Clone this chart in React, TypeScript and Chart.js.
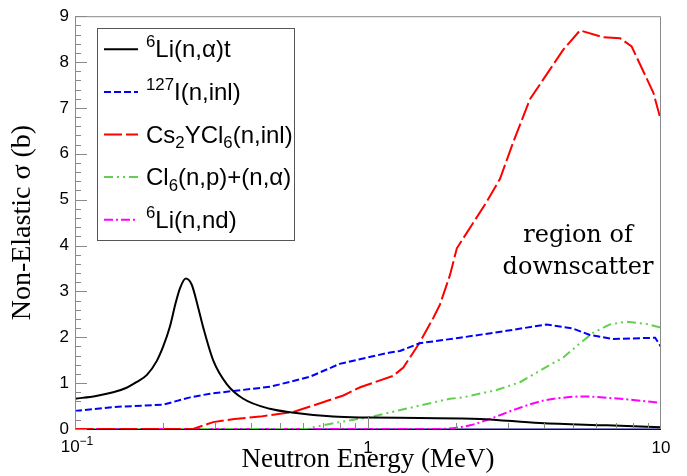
import React, { useEffect, useRef } from 'react';
import { Chart, registerables } from 'chart.js';

Chart.register(...registerables);

// ---- data (energy in MeV, cross-section in barn) ----
const liAlphaE = [0.1, 0.118, 0.135, 0.15, 0.162, 0.176, 0.19, 0.2, 0.211, 0.22, 0.2283, 0.2387, 0.2501, 0.262, 0.274, 0.2965, 0.3295, 0.3753, 0.463, 0.55, 0.76, 1.0, 1.5, 2.41, 3.86, 6.53, 10];
const liAlphaSigma = [0.66, 0.72, 0.8, 0.9, 1.02, 1.18, 1.48, 1.8, 2.24, 2.72, 3.07, 3.28, 3.15, 2.7, 2.21, 1.49, 0.98, 0.66, 0.44, 0.36, 0.27, 0.25, 0.24, 0.22, 0.13, 0.08, 0.04];

const iodineE = [0.1, 0.135, 0.2, 0.247, 0.289, 0.463, 0.634, 0.8, 1.19, 1.285, 1.5, 2.06, 2.97, 4.07, 5.01, 5.72, 6.86, 8.48, 9.55, 10];
const iodineSigma = [0.39, 0.48, 0.53, 0.69, 0.77, 0.92, 1.14, 1.42, 1.67, 1.7, 1.87, 1.99, 2.14, 2.28, 2.19, 2.05, 1.96, 1.98, 1.99, 1.79];

const cyclE = [0.1, 0.253, 0.296, 0.35, 0.428, 0.556, 0.634, 0.824, 0.94, 1.22, 1.32, 1.5, 1.67, 1.76, 1.905, 2.01, 2.54, 2.82, 3.13, 3.57, 4.18, 4.64, 5.29, 6.36, 7.25, 7.94, 9.42, 10];
const cyclSigma = [0, 0, 0.15, 0.22, 0.27, 0.37, 0.49, 0.73, 0.91, 1.16, 1.34, 1.88, 2.42, 2.71, 3.36, 3.94, 4.95, 5.45, 6.25, 7.19, 7.84, 8.27, 8.69, 8.54, 8.52, 8.34, 7.33, 6.72];

const chlorineE = [0.1, 0.62, 0.65, 0.8, 1.016, 1.5, 1.905, 2.11, 2.75, 3.3, 3.76, 4.64, 5.16, 5.87, 6.69, 7.64, 8.94, 10];
const chlorineSigma = [0, 0, 0.04, 0.15, 0.26, 0.51, 0.66, 0.69, 0.85, 1.02, 1.23, 1.56, 1.81, 2.1, 2.28, 2.34, 2.29, 2.21];

const liNdE = [0.1, 1.72, 2.01, 2.23, 2.61, 3.22, 3.97, 4.77, 5.43, 6.53, 7.83, 10];
const liNdSigma = [0, 0, 0.03, 0.08, 0.22, 0.44, 0.62, 0.69, 0.71, 0.68, 0.64, 0.57];

// legend labels as [text, 'sup' | 'sub' | ''] parts
const seriesLabels: [string, string][][] = [
  [['6', 'sup'], ['Li(n,α)t', '']],
  [['127', 'sup'], ['I(n,inl)', '']],
  [['Cs', ''], ['2', 'sub'], ['YCl', ''], ['6', 'sub'], ['(n,inl)', '']],
  [['Cl', ''], ['6', 'sub'], ['(n,p)+(n,α)', '']],
  [['6', 'sup'], ['Li(n,nd)', '']],
];
const seriesPlain = ['⁶Li(n,α)t', '¹²⁷I(n,inl)', 'Cs₂YCl₆(n,inl)', 'Cl₆(n,p)+(n,α)', '⁶Li(n,nd)'];

const yMin = 0;
const yMax = 9;
const xMin = 0.1;
const xMax = 10;
const xLabeled = [1, 10];
const annotationLines = ['region of', 'downscatter'];
const xTitle = 'Neutron Energy (MeV)';
const yTitle = 'Non-Elastic σ (b)';

const toPts = (xs: number[], ys: number[]) => xs.map((x, i) => ({ x, y: ys[i] }));

const SANS = '"Liberation Sans", Arial, sans-serif';
const SERIF = '"Liberation Serif", "Times New Roman", serif';
const FRAME = '#8a8a8a';

function drawRich(ctx: CanvasRenderingContext2D, parts: [string, string][], x: number, y: number, size: number) {
  let cx = x;
  for (const [t, kind] of parts) {
    const s = kind ? size * 0.7 : size;
    ctx.font = `${s}px ${SANS}`;
    const dy = kind === 'sup' ? -size * 0.42 : kind === 'sub' ? size * 0.24 : 0;
    ctx.fillText(t, cx, y + dy);
    cx += ctx.measureText(t).width;
  }
}

const rootPlugin = {
  id: 'rootDecor',
  beforeDatasetsDraw(chart: any) {
    const { ctx, chartArea: a } = chart;
    ctx.save();
    ctx.strokeStyle = '#000080';
    ctx.lineWidth = 1.5;
    ctx.beginPath();
    ctx.moveTo(a.left, a.bottom + 0.25);
    ctx.lineTo(a.right, a.bottom + 0.25);
    ctx.stroke();
    ctx.restore();
  },
  afterDatasetsDraw(chart: any) {
    const { ctx, chartArea: a } = chart;
    const xs = chart.scales.x;
    const ys = chart.scales.y;
    ctx.save();
    // frame (top, right, left)
    ctx.strokeStyle = FRAME;
    ctx.lineWidth = 1;
    ctx.beginPath();
    ctx.moveTo(a.left + 0.5, a.bottom);
    ctx.lineTo(a.left + 0.5, a.top + 0.5);
    ctx.lineTo(a.right - 0.5, a.top + 0.5);
    ctx.lineTo(a.right - 0.5, a.bottom);
    ctx.stroke();
    // y ticks (inside)
    ctx.beginPath();
    for (let i = 0; i <= (yMax - yMin) * 5; i++) {
      const v = yMin + i * 0.2;
      const py = Math.round(ys.getPixelForValue(v)) + 0.5;
      const len = i % 5 === 0 ? 12 : 6;
      ctx.moveTo(a.left, py);
      ctx.lineTo(a.left + len, py);
    }
    // x ticks (inside)
    for (let d = xMin; d < xMax * 0.999; d *= 10) {
      for (let m = 1; m <= 9; m++) {
        const v = d * m;
        const px = Math.round(xs.getPixelForValue(v)) + 0.5;
        const len = m === 1 ? 12 : 6;
        ctx.moveTo(px, a.bottom);
        ctx.lineTo(px, a.bottom - len);
      }
    }
    ctx.stroke();

    // 10^-1 label
    ctx.fillStyle = '#000';
    ctx.textBaseline = 'alphabetic';
    ctx.textAlign = 'left';
    ctx.font = `17px ${SANS}`;
    const w10 = ctx.measureText('10').width;
    ctx.font = `12px ${SANS}`;
    const wSup = ctx.measureText('−1').width;
    const x0 = xs.getPixelForValue(xMin) - (w10 + wSup) / 2 + 2;
    ctx.font = `17px ${SANS}`;
    ctx.fillText('10', x0, a.bottom + 23);
    ctx.font = `12px ${SANS}`;
    ctx.fillText('−1', x0 + w10, a.bottom + 16);

    // legend
    const L = { left: 97, top: 28, right: 295, bottom: 241 };
    ctx.fillStyle = '#fff';
    ctx.fillRect(L.left, L.top, L.right - L.left, L.bottom - L.top);
    ctx.strokeStyle = '#555';
    ctx.lineWidth = 1;
    ctx.strokeRect(L.left + 0.5, L.top + 0.5, L.right - L.left - 1, L.bottom - L.top - 1);
    const rowH = (L.bottom - L.top) / seriesLabels.length;
    chart.data.datasets.forEach((ds: any, i: number) => {
      const cy = L.top + rowH * (i + 0.5);
      ctx.strokeStyle = ds.borderColor;
      ctx.lineWidth = 2;
      ctx.setLineDash(ds.borderDash || []);
      ctx.beginPath();
      ctx.moveTo(104, cy);
      ctx.lineTo(138, cy);
      ctx.stroke();
      ctx.setLineDash([]);
      ctx.fillStyle = '#000';
      drawRich(ctx, seriesLabels[i], 146, cy + 8, 24);
    });

    // annotation
    ctx.fillStyle = '#000';
    ctx.textAlign = 'center';
    ctx.font = '24px "DejaVu Serif", serif';
    ctx.fillText(annotationLines[0], 578, 242);
    ctx.fillText(annotationLines[1], 578, 274);
    ctx.restore();
  },
};

export default function App() {
  const ref = useRef<HTMLCanvasElement | null>(null);
  useEffect(() => {
    if (!ref.current) return;
    const common = { pointRadius: 0, borderWidth: 2, fill: false };
    const chart = new Chart(ref.current, {
      type: 'line',
      data: {
        datasets: [
          { ...common, label: seriesPlain[0], data: toPts(liAlphaE, liAlphaSigma), borderColor: '#000000', borderDash: [], cubicInterpolationMode: 'monotone' },
          { ...common, label: seriesPlain[1], data: toPts(iodineE, iodineSigma), borderColor: '#0000ff', borderDash: [7, 3] },
          { ...common, label: seriesPlain[2], data: toPts(cyclE, cyclSigma), borderColor: '#ff0000', borderDash: [18, 4] },
          { ...common, label: seriesPlain[3], data: toPts(chlorineE, chlorineSigma), borderColor: '#62d04e', borderDash: [9, 4, 2, 4, 2, 4] },
          { ...common, label: seriesPlain[4], data: toPts(liNdE, liNdSigma), borderColor: '#ff00ff', borderDash: [9, 3, 2, 3], cubicInterpolationMode: 'monotone' },
        ] as any,
      },
      options: {
        animation: false,
        responsive: false,
        devicePixelRatio: 1,
        parsing: true,
        layout: { padding: { top: 13, right: 26, left: 0, bottom: 0 } },
        plugins: { legend: { display: false }, tooltip: { enabled: false } },
        scales: {
          x: {
            type: 'logarithmic',
            min: xMin,
            max: xMax,
            grid: { display: false, drawTicks: false },
            border: { display: false },
            afterFit: (s: any) => { s.height = 47; },
            ticks: {
              autoSkip: false,
              maxRotation: 0,
              padding: 9,
              color: '#000',
              font: { family: SANS, size: 17 },
              callback: (v: any) => {
                const n = Number(v);
                const hit = xLabeled.find((t) => Math.abs(n - t) < 1e-9 * t);
                return hit !== undefined ? String(hit) : '';
              },
            },
            title: { display: true, text: xTitle, color: '#000', font: { family: SERIF, size: 27 }, padding: { top: 0, bottom: 0 } },
          },
          y: {
            min: yMin,
            max: yMax,
            grid: { display: false, drawTicks: false },
            border: { display: false },
            afterFit: (s: any) => { s.width = 75; },
            ticks: { stepSize: 1, padding: 6, color: '#000', font: { family: SANS, size: 17 } },
            title: { display: true, text: yTitle, color: '#000', font: { family: SERIF, size: 28 }, padding: { top: 6, bottom: 0 } },
          },
        },
      } as any,
      plugins: [rootPlugin],
    });
    return () => chart.destroy();
  }, []);
  return (
    <canvas
      ref={ref}
      width={687}
      height={476}
      style={{ position: 'fixed', left: 0, top: 0, display: 'block', background: '#fff' }}
    />
  );
}
